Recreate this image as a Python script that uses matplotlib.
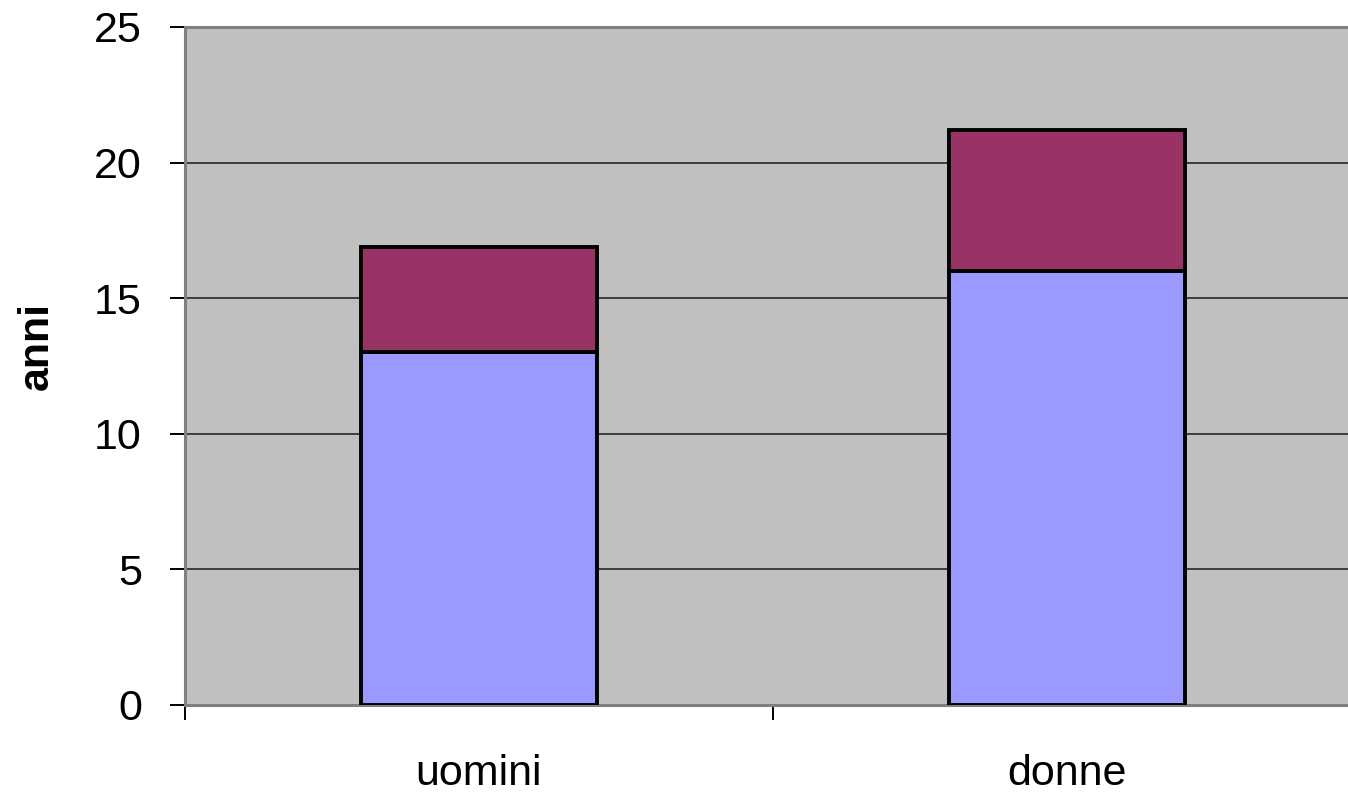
import matplotlib.pyplot as plt

# data
categories = ['uomini', 'donne']
lower = [13.0, 16.0]
upper = [3.9, 5.2]
yticks = [0, 5, 10, 15, 20, 25]

plt.rcParams['font.family'] = ['Liberation Sans', 'DejaVu Sans']

fig = plt.figure(figsize=(13.48, 7.92), dpi=100)
ax = fig.add_axes([185 / 1348, 1 - 705 / 792, 1176 / 1348, 678 / 792])
ax.set_facecolor('#C0C0C0')

x = list(range(len(categories)))
ax.bar(x, lower, width=0.4, color='#9999FF', edgecolor='black', linewidth=2.8, zorder=3)
ax.bar(x, upper, bottom=lower, width=0.4, color='#993366', edgecolor='black', linewidth=2.8, zorder=3)

ax.set_xlim(-0.5, 1.5)
ax.set_ylim(0, 25)
ax.set_yticks(yticks)
ax.yaxis.grid(True, color='#333333', linewidth=1.3, zorder=1)
ax.set_axisbelow(True)

# category boundary ticks, labels centred below
ax.set_xticks([-0.5, 0.5, 1.5])
ax.set_xticklabels([])
ax.set_xticks(x, minor=True)
ax.set_xticklabels(categories, minor=True, fontsize=31)
ax.tick_params(axis='x', which='minor', length=0, pad=35)
ax.tick_params(axis='x', which='major', length=11, width=1.4, color='black')
ax.tick_params(axis='y', length=11, width=1.4, color='black', labelsize=31, pad=20)

for side in ['left', 'bottom', 'top', 'right']:
    ax.spines[side].set_color('#808080')
    ax.spines[side].set_linewidth(2.2)

ax.set_ylabel('anni', fontsize=31, fontweight='bold')
ax.yaxis.set_label_coords(-0.109, 0.53)

fig.savefig('out.png', dpi=100)
